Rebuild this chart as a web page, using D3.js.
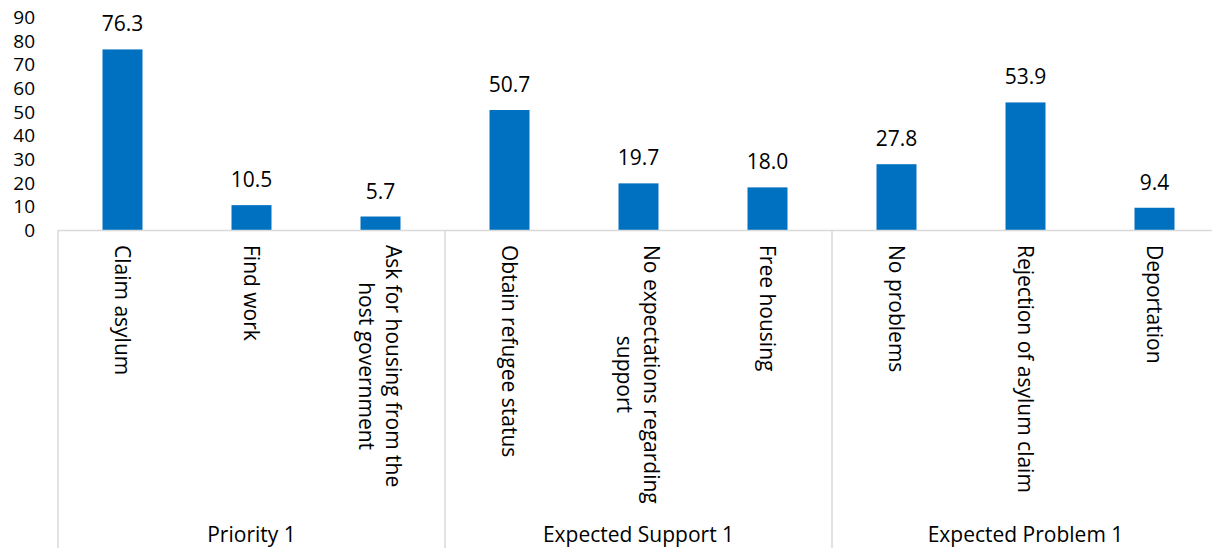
<!DOCTYPE html>
<html>
<head>
<meta charset="utf-8">
<script src="https://cdn.jsdelivr.net/npm/d3@7"></script>
<style>
  body { margin: 0; background: #fff; }
  text { font-family: "Open Sans", sans-serif; fill: #000; }
</style>
</head>
<body>
<div id="chart"></div>
<script>
const categories = [
    "Claim asylum", "Find work", "Ask for housing from the|host government",
    "Obtain refugee status", "No expectations regarding|support", "Free housing",
    "No problems", "Rejection of asylum claim", "Deportation"
];
const values = [76.3, 10.5, 5.7, 50.7, 19.7, 18.0, 27.8, 53.9, 9.4];
const groups = ["Priority 1", "Expected Support 1", "Expected Problem 1"];
const groupSize = 3;
const yTicks = [0, 10, 20, 30, 40, 50, 60, 70, 80, 90];

const width = 1212,
    height = 548,
    margin = ({ top: 17, right: -7, bottom: 318, left: 58 });

const svg = d3.select("#chart")
    .append("svg")
    .attr("width", width)
    .attr("height", height);

const data = categories.map((c, i) => ({ cat: c, value: values[i] }));

const x = d3.scaleBand()
    .domain(categories)
    .range([margin.left, width - margin.right])
    .paddingInner(0.69)
    .paddingOuter(0.345);

const y = d3.scaleLinear()
    .domain([0, 90])
    .range([height - margin.bottom, margin.top]);

const step = x.step();
const base = y(0);

// y tick labels only, no axis line
svg.append("g")
    .selectAll("text")
    .data(yTicks)
    .join("text")
    .attr("x", 35)
    .attr("y", d => y(d))
    .attr("dy", "0.36em")
    .attr("text-anchor", "end")
    .style("font-size", "19px")
    .text(d => d);

// bars
svg.append("g")
    .selectAll("rect")
    .data(data)
    .join("rect")
    .attr("fill", "#0070C0")
    .attr("x", d => x(d.cat))
    .attr("width", x.bandwidth())
    .attr("y", d => y(d.value))
    .attr("height", d => base - y(d.value));

// value labels
svg.append("g")
    .selectAll("text")
    .data(data)
    .join("text")
    .attr("x", d => x(d.cat) + x.bandwidth() / 2)
    .attr("y", d => y(d.value) - 18)
    .attr("text-anchor", "middle")
    .style("font-size", "21px")
    .text(d => d.value.toFixed(1));

// axis lines
const lineColor = "#d9d9d9";
svg.append("line")
    .attr("x1", margin.left).attr("x2", width)
    .attr("y1", base + 0.5).attr("y2", base + 0.5)
    .attr("stroke", lineColor).attr("stroke-width", 1.5);

const dividers = d3.range(groups.length + 1).map(g => margin.left + g * groupSize * step);
svg.append("g")
    .selectAll("line")
    .data(dividers)
    .join("line")
    .attr("x1", d => d).attr("x2", d => d)
    .attr("y1", base).attr("y2", height)
    .attr("stroke", lineColor)
    .attr("stroke-width", 1.5);

// rotated category labels
const lineH = 27;
const catG = svg.append("g")
    .selectAll("g")
    .data(data)
    .join("g");

catG.each(function(d) {
    const lines = d.cat.split("|");
    const g = d3.select(this);
    const cx = x(d.cat) + x.bandwidth() / 2;
    const t = g.append("text")
        .style("font-size", "21px")
        .attr("text-anchor", "middle");
    lines.forEach((l, i) => t.append("tspan").attr("x", 0).attr("y", i * lineH).text(l));
    let maxLen = 0;
    t.selectAll("tspan").each(function() { maxLen = Math.max(maxLen, this.getComputedTextLength()); });
    // block of lines centred on the band, longest line starts at the top
    const blockOff = (lines.length - 1) * lineH / 2;
    t.attr("transform", `translate(${cx - 8 + blockOff},${base + 15 + maxLen / 2}) rotate(90)`);
});

// group labels
svg.append("g")
    .selectAll("text")
    .data(groups)
    .join("text")
    .attr("x", (d, i) => (dividers[i] + dividers[i + 1]) / 2)
    .attr("y", 542)
    .attr("text-anchor", "middle")
    .style("font-size", "21px")
    .text(d => d);
</script>
</body>
</html>
